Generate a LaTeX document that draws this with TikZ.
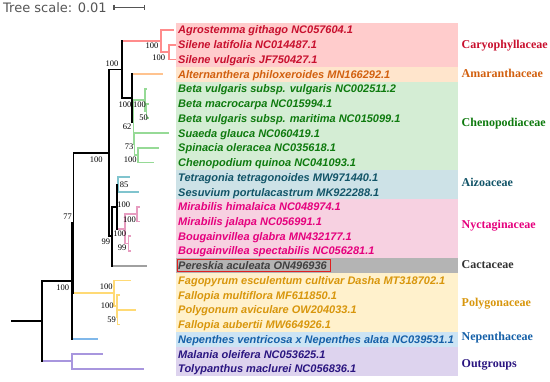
\documentclass[tikz,border=0pt]{standalone}
\usepackage{fontspec}
\setmainfont{Liberation Serif}
\newfontfamily\tipfont{Liberation Sans}
\newfontfamily\tsfont{DejaVu Sans}

\definecolor{caryF}{HTML}{FFCCCC}\definecolor{caryT}{HTML}{C8102E}\definecolor{caryB}{HTML}{FF8C8C}
\definecolor{amarF}{HTML}{FFE5CC}\definecolor{amarT}{HTML}{D2600F}\definecolor{amarB}{HTML}{FFC38F}
\definecolor{chenF}{HTML}{D4EDD4}\definecolor{chenT}{HTML}{0E7A0E}\definecolor{chenB}{HTML}{96DA96}
\definecolor{aizoF}{HTML}{CDE2E7}\definecolor{aizoT}{HTML}{125468}\definecolor{aizoB}{HTML}{80C4CE}
\definecolor{nyctF}{HTML}{F7D1E1}\definecolor{nyctT}{HTML}{E5007D}\definecolor{nyctB}{HTML}{E79CC0}
\definecolor{cactF}{HTML}{B4B4B4}\definecolor{cactT}{HTML}{404040}\definecolor{cactB}{HTML}{A0A0A0}
\definecolor{polyF}{HTML}{FFF1CC}\definecolor{polyT}{HTML}{D8960C}\definecolor{polyB}{HTML}{FFDA75}
\definecolor{nepeF}{HTML}{CCE4F4}\definecolor{nepeT}{HTML}{1560A8}\definecolor{nepeB}{HTML}{80B8EA}
\definecolor{outgF}{HTML}{DDD3EE}\definecolor{outgT}{HTML}{2A1580}\definecolor{outgB}{HTML}{A896DE}
\definecolor{boxred}{HTML}{E02020}
\definecolor{scalegray}{HTML}{555555}

\begin{document}
\begin{tikzpicture}[x=1pt, y=-1pt,
    br/.style={draw=#1, line width=1.8pt, line cap=rect},
    br/.default=black,
    tip/.style={anchor=west, inner sep=0pt, text height=8pt, text depth=0pt,
        font=\tipfont\fontsize{11}{13}\selectfont\bfseries\itshape},
    fam/.style={anchor=west, inner sep=0pt, text height=8pt, text depth=0pt,
        font=\fontsize{12}{14}\selectfont\bfseries},
    bs/.style={inner sep=0pt, text height=6pt, text depth=0pt,
        font=\fontsize{8.5}{10}\selectfont}]

    % 画布范围
    \useasboundingbox (0,0) rectangle (550,382);

    % 标尺
    \node[anchor=west, inner sep=0pt, text height=9.5pt, text depth=0pt, text=scalegray,
        font=\tsfont\fontsize{13}{15}\selectfont] (scale) at (3,7.3) {Tree scale: 0.01};
    \coordinate (sb1) at (114,7.3);
    \coordinate (sb2) at (144.3,7.3);
    \draw[scalegray, line width=1.3pt] (sb1) -- (sb2)
        (sb1) ++(0,-2.6) -- ++(0,5.2)
        (sb2) ++(0,-2.6) -- ++(0,5.2);

    % 各科底色
    \foreach \fc/\a/\b in {caryF/0/2, amarF/3/3, chenF/4/9, aizoF/10/11, nyctF/12/15,
            cactF/16/16, polyF/17/20, nepeF/21/21, outgF/22/23}
        \fill[fill=\fc] (176,{30+14.73*\a-7.37}) rectangle (457.7,{30+14.73*\b+7.37});

    % 内部节点
    \coordinate (sil)   at (169,52.1);
    \coordinate (car)   at (161,41.05);
    \coordinate (betab) at (146.5,111.0);
    \coordinate (beta)  at (145,99.96);
    \coordinate (spch)  at (138.3,155.2);
    \coordinate (susp)  at (134.5,144.2);
    \coordinate (cheno) at (133.5,122.1);
    \coordinate (amch)  at (132.3,98.1);
    \coordinate (w)     at (121.7,69.6);
    \coordinate (aiz)   at (118.3,184.7);
    \coordinate (mir)   at (137,214.1);
    \coordinate (boug)  at (128.5,243.6);
    \coordinate (nyc)   at (125,228.9);
    \coordinate (ainy)  at (116.7,206.8);
    \coordinate (cac)   at (112.3,236.2);
    \coordinate (z)     at (109.3,152.9);
    \coordinate (pgc)   at (117.5,317.2);
    \coordinate (pgb)   at (116.7,306.2);
    \coordinate (pg)    at (114,293.3);
    \coordinate (yn)    at (73.5,223.1);
    \coordinate (nout)  at (72.3,281.2);
    \coordinate (outg)  at (72,361.4);
    \coordinate (root)  at (41.7,321.3);
    \coordinate (base)  at (12,321.3);

    % 末端分支与物种名
    \foreach \i/\nm/\tc/\bc/\pa/\xe in {
            0/Agrostemma githago NC057604.1/caryT/caryB/car/172.7,
            1/Silene latifolia NC014487.1/caryT/caryB/sil/175.3,
            2/Silene vulgaris JF750427.1/caryT/caryB/sil/175.3,
            3/Alternanthera philoxeroides MN166292.1/amarT/amarB/amch/162.3,
            4/Beta vulgaris subsp. vulgaris NC002511.2/chenT/chenB/beta/146.5,
            5/Beta macrocarpa NC015994.1/chenT/chenB/betab/148,
            6/Beta vulgaris subsp. maritima NC015099.1/chenT/chenB/betab/148,
            7/Suaeda glauca NC060419.1/chenT/chenB/susp/168.3,
            8/Spinacia oleracea NC035618.1/chenT/chenB/spch/158.3,
            9/Chenopodium quinoa NC041093.1/chenT/chenB/spch/153.3,
            10/Tetragonia tetragonoides MW971440.1/aizoT/aizoB/aiz/129.3,
            11/Sesuvium portulacastrum MK922288.1/aizoT/aizoB/aiz/137.7,
            12/Mirabilis himalaica NC048974.1/nyctT/nyctB/mir/139.5,
            13/Mirabilis jalapa NC056991.1/nyctT/nyctB/mir/139.5,
            14/Bougainvillea glabra MN432177.1/nyctT/nyctB/boug/130.5,
            15/Bougainvillea spectabilis NC056281.1/nyctT/nyctB/boug/130.5,
            16/Pereskia aculeata ON496936/cactT/cactB/cac/146,
            17/Fagopyrum esculentum cultivar Dasha MT318702.1/polyT/polyB/pg/130,
            18/Fallopia multiflora MF611850.1/polyT/polyB/pgb/118.7,
            19/Polygonum aviculare OW204033.1/polyT/polyB/pgc/135,
            20/Fallopia aubertii MW664926.1/polyT/polyB/pgc/119.5,
            21/Nepenthes ventricosa x Nepenthes alata NC039531.1/nepeT/nepeB/nout/97.3,
            22/Malania oleifera NC053625.1/outgT/outgB/outg/102.3,
            23/Tolypanthus maclurei NC056836.1/outgT/outgB/outg/143.3} {
        \coordinate (e\i) at (\xe,{30+14.73*\i});
        \draw[br=\bc] (\pa |- e\i) -- (e\i);
        \node[tip, text=\tc] (t\i) at (178,{30+14.73*\i}) {\nm};
    }

    % 内部分支
    \foreach \pa/\n/\bc in {car/sil/caryB, w/car/caryB, beta/betab/chenB, cheno/beta/chenB,
            susp/spch/chenB, cheno/susp/chenB, amch/cheno/chenB, w/amch/black, z/w/black,
            nyc/mir/nyctB, nyc/boug/nyctB, ainy/aiz/aizoB, ainy/nyc/nyctB, cac/ainy/black,
            z/cac/black, yn/z/black, pgb/pgc/polyB, pg/pgb/polyB, yn/pg/polyB,
            nout/yn/black, root/nout/black, root/outg/outgB}
        \draw[br=\bc] (\pa |- \n) -- (\n);
    \draw[br] (base) -- (root);

    % 节点竖线
    \foreach \n/\a/\b/\bc in {sil/e1/e2/caryB, car/e0/sil/caryB, betab/e5/e6/chenB,
            beta/e4/betab/chenB, spch/e8/e9/chenB, susp/e7/spch/chenB, cheno/beta/susp/chenB,
            amch/e3/cheno/black, w/car/amch/black, aiz/e10/e11/aizoB, mir/e12/e13/nyctB,
            boug/e14/e15/nyctB, nyc/mir/boug/nyctB, ainy/aiz/nyc/black, cac/ainy/e16/black,
            z/w/cac/black, pgc/e19/e20/polyB, pgb/e18/pgc/polyB, pg/e17/pgb/polyB,
            yn/z/pg/black, nout/yn/e21/black, outg/e22/e23/outgB, root/nout/outg/black}
        \draw[br=\bc] (\n |- \a) -- (\n |- \b);

    % 支持率
    \foreach \xx/\yy/\v [count=\k] in {152/46/100, 158.7/57.7/100, 112/63.3/100,
            125/104.3/100, 139.5/104.3/100, 143.5/117.3/50, 127.2/126.7/62, 129.2/146.7/73,
            130.3/160/100, 96.3/160/100, 124.2/184.3/85, 123.7/205/100, 129.5/219.3/100,
            119.7/233.3/100, 105.8/241.7/99, 122.2/247.7/99, 67.5/216.7/77, 62.8/287.7/100,
            106.3/286.7/100, 107.2/306/100, 111.5/320/59}
        \node[bs] (bs\k) at (\xx,\yy) {\v};

    % 科名
    \foreach \f/\yy/\tc/\nm in {cary/45/caryT/Caryophyllaceae, amar/74/amarT/Amaranthaceae,
            chen/122.7/chenT/Chenopodiaceae, aizo/182.7/aizoT/Aizoaceae,
            nyct/225/nyctT/Nyctaginaceae, cact/265/black!80/Cactaceae,
            poly/303/polyT/Polygonaceae, nepe/336.7/nepeT/Nepenthaceae,
            outg/364/outgT/Outgroups}
        \node[fam, text=\tc] (lab-\f) at (461.5,\yy) {\nm};

    % 红框
    \draw[boxred, line width=0.8pt] ([shift={(-1pt,6.2pt)}]t16.west)
        rectangle ([shift={(3pt,-6.2pt)}]t16.east);
\end{tikzpicture}
\end{document}
